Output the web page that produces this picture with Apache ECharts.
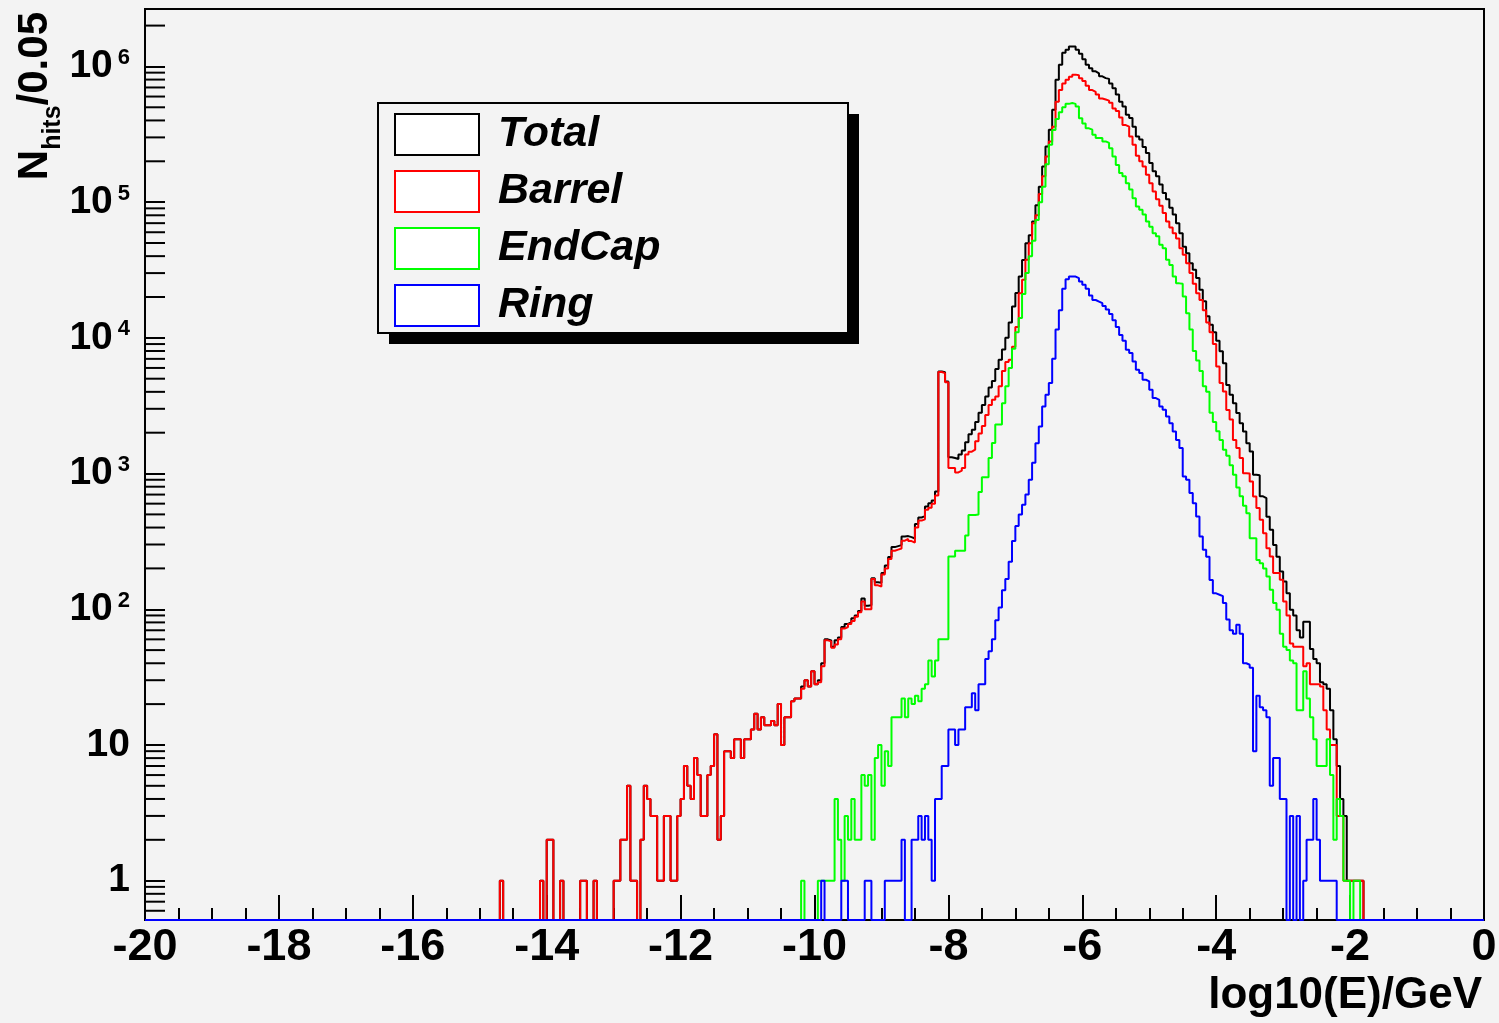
<!DOCTYPE html>
<html>
<head>
<meta charset="utf-8">
<title>Nhits vs log10(E)</title>
<script src="https://cdn.jsdelivr.net/npm/echarts@6/dist/echarts.min.js"></script>
<style>
  html, body { margin: 0; padding: 0; background: #f3f3f3; }
  #chart { width: 1499px; height: 1023px; }
</style>
</head>
<body>
<div id="chart"></div>
<script>
// 400 bins of 0.05 between -20 and 0
const X_MIN = -20, X_MAX = 0, BIN = 0.05;
const Y_MIN = 0.513, Y_MAX = 2.65e6;

const seriesNames = ['Total', 'Barrel', 'EndCap', 'Ring'];
const seriesColors = ['#000000', '#ff0000', '#00ff00', '#0000ff'];

// low edge of the first listed bin, then the counts of consecutive bins
const totalStart = -14.70;
const totalCounts = [
  1, 0, 0, 0, 0, 0, 0, 0, 0, 0,                  // -14.70
  0, 0, 1, 0, 2, 2, 0, 0, 1, 0,                  // -14.20
  0, 0, 0, 0, 1, 1, 0, 0, 1, 0,                  // -13.70
  0, 0, 0, 0, 1, 1, 2, 2, 5, 1,                  // -13.20
  1, 0, 2, 5, 4, 3, 3, 1, 1, 3,                  // -12.70
  3, 1, 1, 3, 4, 7, 5, 4, 8, 6,                  // -12.20
  3, 3, 6, 7, 12, 2, 3, 9, 9, 8,                 // -11.70
  11, 11, 8, 11, 11, 13, 17, 13, 16, 14,         // -11.20
  14, 15, 14, 20, 10, 16, 16, 21, 22, 22,        // -10.70
  27, 30, 27, 35, 28, 30, 40, 60, 59, 53,        // -10.20
  59, 62, 74, 78, 80, 86, 90, 97, 120, 106,      // -9.70
  107, 169, 158, 157, 185, 210, 243, 287, 292, 297, // -9.20
  344, 346, 340, 332, 425, 474, 488, 571, 604, 633, // -8.70
  736, 5660, 5570, 4770, 1320, 1300, 1280, 1380, 1480, 1700, // -8.20
  1950, 2100, 2400, 2800, 3200, 3700, 4300, 4800, 5900, 6900, // -7.70
  8200, 10000, 13000, 17000, 21400, 28300, 37500, 49700, 57000, 72000, // -7.20
  95000, 130000, 183000, 257000, 342000, 480000, 798000, 1030000, 1260000, 1330000, // -6.70
  1400000, 1400000, 1330000, 1240000, 1130000, 1030000, 970000, 920000, 890000, 845000, // -6.20
  820000, 810000, 750000, 690000, 620000, 550000, 507000, 440000, 417000, 360000, // -5.70
  305000, 290000, 255000, 230000, 194000, 169000, 155000, 135000, 117000, 105000, // -5.20
  91000, 81000, 70000, 59000, 47000, 42000, 35500, 31800, 27600, 22600, // -4.70
  18600, 14400, 12500, 11000, 9500, 7950, 6500, 4500, 3810, 3300, // -4.20
  2790, 2350, 2040, 1675, 1452, 980, 970, 680, 660, 480, // -3.70
  385, 298, 244, 190, 160, 131, 99, 90, 70, 62,  // -3.20
  81, 81, 51, 43, 40, 29, 28, 26, 18, 11,        // -2.70
  7, 4, 3, 1, 1, 1, 1, 1                         // -2.20
];

const barrelStart = -14.70;
const barrelCounts = [
  1, 0, 0, 0, 0, 0, 0, 0, 0, 0,                  // -14.70
  0, 0, 1, 0, 2, 2, 0, 0, 1, 0,                  // -14.20
  0, 0, 0, 0, 1, 1, 0, 0, 1, 0,                  // -13.70
  0, 0, 0, 0, 1, 1, 2, 2, 5, 1,                  // -13.20
  1, 0, 2, 5, 4, 3, 3, 1, 1, 3,                  // -12.70
  3, 1, 1, 3, 4, 7, 5, 4, 8, 6,                  // -12.20
  3, 3, 6, 7, 12, 2, 3, 9, 9, 8,                 // -11.70
  11, 11, 8, 11, 11, 13, 17, 13, 16, 14,         // -11.20
  14, 15, 14, 20, 10, 16, 16, 21, 22, 22,        // -10.70
  26, 30, 27, 35, 28, 29, 38, 59, 58, 52,        // -10.20
  55, 60, 72, 74, 78, 82, 88, 95, 114, 100,      // -9.70
  100, 167, 150, 147, 180, 200, 235, 270, 275, 280, // -9.20
  320, 330, 318, 310, 400, 450, 460, 540, 560, 600, // -8.70
  690, 5600, 5500, 4700, 1100, 1100, 1020, 1050, 1100, 1380, // -8.20
  1450, 1500, 1730, 1970, 2240, 2700, 3200, 3500, 3700, 4400, // -7.70
  5700, 6640, 6900, 8600, 12000, 21300, 26800, 37600, 49700, 70000, // -7.20
  80000, 115000, 155000, 217000, 280000, 360000, 550000, 670000, 750000, 798000, // -6.70
  840000, 870000, 860000, 820000, 780000, 720000, 670000, 650000, 620000, 580000, // -6.20
  570000, 560000, 540000, 490000, 470000, 420000, 370000, 360000, 305000, 265000, // -5.70
  220000, 200000, 183000, 159000, 138000, 120000, 105000, 94000, 83000, 72000, // -5.20
  65000, 59000, 54000, 45700, 41000, 35500, 30000, 25000, 21300, 19000, // -4.70
  16000, 13000, 11000, 9000, 6150, 4640, 4030, 2940, 2500, 1770, // -4.20
  1540, 1300, 1007, 1000, 875, 678, 557, 457, 363, 282, // -3.70
  245, 185, 185, 165, 114, 90, 56, 53, 53, 53,   // -3.20
  38, 40, 28, 28, 28, 27, 18, 13, 10, 10,        // -2.70
  3, 3, 1, 1, 1, 1, 1, 1                         // -2.20
];

const endcapStart = -10.20;
const endcapCounts = [
  1, 0, 0, 0, 0, 1, 1, 1, 1, 1,                  // -10.20
  4, 2, 1, 3, 2, 4, 2, 2, 6, 5,                  // -9.70
  6, 2, 8, 10, 5, 9, 7, 16, 16, 16,              // -9.20
  22, 16, 22, 20, 23, 21, 26, 28, 42, 32,        // -8.70
  42, 60, 60, 60, 245, 245, 270, 270, 270, 349,  // -8.20
  495, 495, 500, 730, 940, 940, 1300, 1680, 2300, 2300, // -7.70
  3300, 4390, 6000, 8300, 11000, 14000, 21000, 30000, 40000, 52000, // -7.20
  74000, 100000, 130000, 190000, 265000, 340000, 410000, 460000, 500000, 530000, // -6.70
  537000, 530000, 507000, 416000, 380000, 350000, 342000, 314000, 297000, 297000, // -6.20
  280000, 273000, 250000, 217000, 188000, 164000, 155000, 138000, 124000, 107000, // -5.70
  93000, 88000, 81000, 72000, 66000, 59000, 56000, 48600, 45700, 37600, // -5.20
  34400, 28300, 25200, 25000, 20200, 15200, 11500, 8000, 6800, 5700, // -4.70
  4400, 4000, 2800, 2400, 2050, 1770, 1500, 1350, 1150, 980, // -4.20
  790, 680, 580, 510, 334, 334, 231, 218, 200, 174, // -3.70
  139, 111, 99, 66, 53, 50, 42, 40, 18, 18,      // -3.20
  35, 22, 16, 11, 7, 7, 7, 11, 6, 2,             // -2.70
  4, 3, 1, 1, 0, 1, 1                            // -2.20
];

const ringStart = -9.90;
const ringCounts = [
  1, 0, 0, 0, 0, 0, 1, 1, 0, 0,                  // -9.90
  0, 0, 0, 1, 1, 0, 0, 0, 0, 1,                  // -9.40
  1, 1, 1, 1, 2, 0, 0, 2, 2, 3,                  // -8.90
  2, 3, 2, 1, 4, 4, 7, 7, 13, 13,                // -8.40
  10, 13, 13, 19, 19, 24, 18, 28, 28, 43,        // -7.90
  49, 60, 83, 103, 138, 167, 224, 318, 410, 500, // -7.40
  588, 700, 900, 1200, 1675, 2220, 3120, 3800, 4640, 7000, // -6.90
  11500, 16000, 23000, 27000, 28300, 28300, 27500, 26000, 24600, 23000, // -6.40
  20500, 19000, 18500, 18000, 17200, 16200, 15000, 13500, 12000, 10500, // -5.90
  9500, 8170, 7720, 6700, 5820, 5500, 4910, 4780, 4140, 3600, // -5.40
  3490, 3120, 2950, 2630, 2350, 2040, 1770, 1540, 951, 900, // -4.90
  718, 605, 482, 343, 274, 244, 164, 131, 128, 125, // -4.40
  111, 84, 70, 66, 77, 66, 40, 39, 37, 9,        // -3.90
  23, 19, 18, 16, 5, 8, 8, 4, 4, 0,              // -3.40
  3, 0, 3, 0, 1, 2, 2, 4, 2, 1,                  // -2.90
  1, 1, 1, 1                                     // -2.40
];

const yTickValues = [1, 10, 100, 1e3, 1e4, 1e5, 1e6];
const yMinorTicks = [];
for (let k = -1; k <= 6; k++) {
  for (let m = 2; m <= 9; m++) {
    const v = m * Math.pow(10, k);
    if (v > Y_MIN && v < Y_MAX) yMinorTicks.push(v);
  }
}

const FONT = 'Liberation Sans, Arial, Helvetica, sans-serif';
const N_BINS = Math.round((X_MAX - X_MIN) / BIN);
const Y_TICK_LEN = 20;

// full 400-bin histogram; empty bins sit on the bottom of the frame
function histPoints(start, counts) {
  const first = Math.round((start - X_MIN) / BIN);
  const pts = [];
  for (let i = 0; i < N_BINS; i++) {
    const j = i - first;
    const c = (j >= 0 && j < counts.length) ? counts[j] : 0;
    pts.push([+(X_MIN + i * BIN).toFixed(2), c > 0 ? c : Y_MIN]);
  }
  pts.push([X_MAX, pts[pts.length - 1][1]]);
  return pts;
}

const histData = [
  histPoints(totalStart, totalCounts),
  histPoints(barrelStart, barrelCounts),
  histPoints(endcapStart, endcapCounts),
  histPoints(ringStart, ringCounts)
];

let myChart = echarts.init(document.getElementById('chart'));

const histSeries = seriesNames.map((name, i) => ({
  name: name,
  type: 'line',
  step: 'end',
  data: histData[i],
  symbol: 'none',
  showSymbol: false,
  clip: false,
  lineStyle: { color: seriesColors[i], width: 2 },
  itemStyle: { color: seriesColors[i] },
  emphasis: { disabled: true },
  z: 3 + i
}));

let options = {
  backgroundColor: '#f3f3f3',
  animation: false,
  textStyle: { fontFamily: FONT },
  grid: {
    left: 145, right: 15, top: 9, bottom: 103,
    outerBoundsMode: 'none',
    show: true, borderColor: '#000', borderWidth: 2, backgroundColor: 'transparent'
  },
  // legend drop shadow
  graphic: [{
    type: 'rect',
    left: 389, top: 114, z: 90,
    shape: { width: 470, height: 230 },
    style: { fill: '#000' },
    silent: true
  }],
  legend: {
    orient: 'vertical',
    left: 378, top: 103, z: 100,
    padding: [10, 50, 6, 16],
    itemWidth: 84, itemHeight: 41, itemGap: 14,
    backgroundColor: '#f3f3f3',
    borderColor: '#000', borderWidth: 2,
    selectedMode: false,
    icon: 'rect',
    textStyle: {
      fontFamily: FONT, fontSize: 43, fontWeight: 'bold', fontStyle: 'italic',
      color: '#000', lineHeight: 41, width: 300, padding: [0, 0, 0, 14]
    },
    data: seriesNames.map((name, i) => ({
      name: name,
      itemStyle: { color: '#ffffff', borderColor: seriesColors[i], borderWidth: 2 }
    }))
  },
  xAxis: {
    type: 'value', min: X_MIN, max: X_MAX, interval: 2,
    axisLine: { show: true, onZero: false, lineStyle: { color: '#000', width: 2 } },
    axisTick: { show: true, inside: true, length: 25, lineStyle: { color: '#000', width: 2 } },
    minorTick: { show: true, splitNumber: 4, length: 12, lineStyle: { color: '#000', width: 2 } },
    splitLine: { show: false },
    axisLabel: {
      color: '#000', fontFamily: FONT, fontSize: 45, fontWeight: 'bold', margin: 5,
      showMinLabel: true, showMaxLabel: true
    },
    name: 'log10(E)/GeV',
    nameLocation: 'end',
    nameGap: -2,
    nameMoveOverlap: false,
    nameTextStyle: {
      color: '#000', fontFamily: FONT, fontSize: 44, fontWeight: 'bold',
      align: 'right', verticalAlign: 'top', lineHeight: 44, padding: [54, 0, 0, 0]
    }
  },
  yAxis: {
    type: 'log', logBase: 10, min: Y_MIN, max: Y_MAX, splitNumber: 7,
    axisLine: { show: true, onZero: false, lineStyle: { color: '#000', width: 2 } },
    axisTick: { show: true, inside: true, length: Y_TICK_LEN, lineStyle: { color: '#000', width: 2 } },
    splitLine: { show: false },
    axisLabel: {
      margin: 15, showMinLabel: false, showMaxLabel: false,
      formatter: function (value) {
        const k = Math.round(Math.log10(value));
        if (yTickValues.indexOf(Math.pow(10, k)) < 0) return '';
        if (k === 0) return '{b|1}';
        if (k === 1) return '{b|10}';
        return '{b|10}{s|' + k + '}';
      },
      rich: {
        b: { fontFamily: FONT, fontSize: 39, fontWeight: 'bold', color: '#000', lineHeight: 39, verticalAlign: 'bottom' },
        s: { fontFamily: FONT, fontSize: 22, fontWeight: 'bold', color: '#000', lineHeight: 22, verticalAlign: 'top', padding: [0, 0, 25, 5] }
      }
    },
    name: '{n|N}{h|hits}{n|/0.05}',
    nameLocation: 'end',
    nameRotate: 90,
    nameGap: -3,
    nameMoveOverlap: false,
    nameTextStyle: {
      align: 'right', verticalAlign: 'bottom', padding: [0, 0, 79, 0],
      rich: {
        n: { fontFamily: FONT, fontSize: 42, fontWeight: 'bold', color: '#000', lineHeight: 42, padding: [0, 0, 10, 0], verticalAlign: 'bottom' },
        h: { fontFamily: FONT, fontSize: 25, fontWeight: 'bold', color: '#000', lineHeight: 25, verticalAlign: 'bottom' }
      }
    }
  },
  series: [
    // log-axis minor ticks at 2..9 x 10^k
    {
      type: 'custom',
      silent: true,
      clip: false,
      z: 2,
      data: yMinorTicks.map(v => [X_MIN, v]),
      renderItem: function (params, api) {
        const p = api.coord([api.value(0), api.value(1)]);
        return {
          type: 'line',
          shape: { x1: p[0], y1: p[1], x2: p[0] + Y_TICK_LEN, y2: p[1] },
          style: { stroke: '#000', lineWidth: 2 }
        };
      }
    }
  ].concat(histSeries)
};

myChart.setOption(options);
</script>
</body>
</html>
